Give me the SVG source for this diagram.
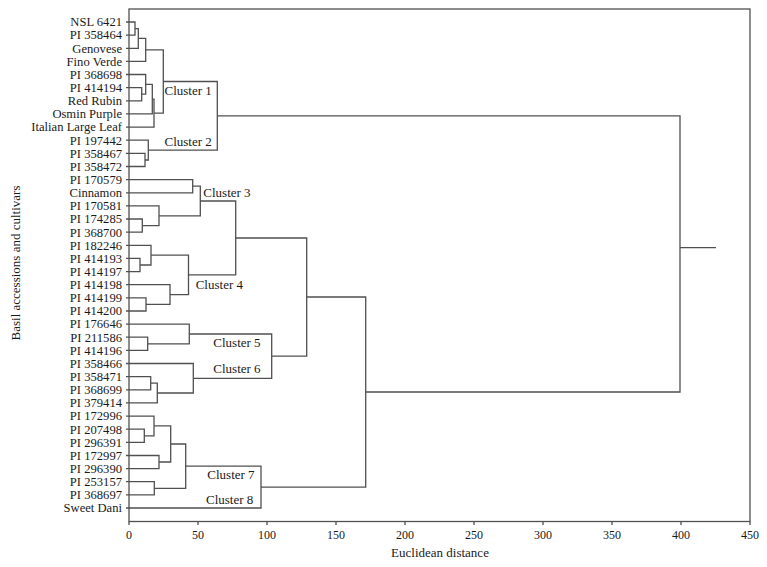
<svg xmlns="http://www.w3.org/2000/svg" width="767" height="567" viewBox="0 0 767 567">
<style>
.ln{fill:none;stroke:#505050;stroke-width:1.3}
.leaf{font-family:"Liberation Serif",serif;font-size:12.6px;fill:#1a1a1a;text-anchor:end}
.cl{font-family:"Liberation Serif",serif;font-size:13px;fill:#1a1a1a}
.tk{font-family:"Liberation Serif",serif;font-size:12px;fill:#1a1a1a;text-anchor:middle}
.ttl{font-family:"Liberation Serif",serif;font-size:13px;fill:#1a1a1a;text-anchor:middle}
</style>
<rect width="767" height="567" fill="#fff"/>
<g id="axes">
<rect class="ln" x="129" y="9" width="621" height="512.5"/>
<path class="ln" d="M129 521.5V525M198 521.5V525M267 521.5V525M336 521.5V525M405 521.5V525M474 521.5V525M543 521.5V525M612 521.5V525M681 521.5V525M750 521.5V525"/>
<text class="tk" x="129" y="539">0</text>
<text class="tk" x="198" y="539">50</text>
<text class="tk" x="267" y="539">100</text>
<text class="tk" x="336" y="539">150</text>
<text class="tk" x="405" y="539">200</text>
<text class="tk" x="474" y="539">250</text>
<text class="tk" x="543" y="539">300</text>
<text class="tk" x="612" y="539">350</text>
<text class="tk" x="681" y="539">400</text>
<text class="tk" x="750" y="539">450</text>
<text class="ttl" x="440" y="557">Euclidean distance</text>
<text class="ttl" transform="translate(20,263) rotate(-90)">Basil accessions and cultivars</text>
</g>
<g id="connectors">
<path class="ln" d="M126 22H135V35.1H126"/>
<path class="ln" d="M135 28.6H138.3V48.3H126"/>
<path class="ln" d="M138.3 38.4H145.7V61.4H126"/>
<path class="ln" d="M126 87.7H141.7V100.8H126"/>
<path class="ln" d="M126 74.5H145.7V94.2H141.7"/>
<path class="ln" d="M145.7 84.4H152.3V113.9H126"/>
<path class="ln" d="M152.3 99.1H154V127.1H126"/>
<path class="ln" d="M145.7 49.9H163.3V113.1H154"/>
<path class="ln" d="M126 153.4H145V166.5H126"/>
<path class="ln" d="M126 140.2H148.3V160H145"/>
<path class="ln" d="M163.3 81.5H217.3V150.1H148.3"/>
<path class="ln" d="M126 179.6H192.7V192.8H126"/>
<path class="ln" d="M126 219H142.3V232.2H126"/>
<path class="ln" d="M126 205.9H159V225.6H142.3"/>
<path class="ln" d="M192.7 186.2H200.3V215.8H159"/>
<path class="ln" d="M126 258.4H140V271.6H126"/>
<path class="ln" d="M126 245.3H151V265H140"/>
<path class="ln" d="M126 297.8H146V311H126"/>
<path class="ln" d="M126 284.7H170V304.4H146"/>
<path class="ln" d="M151 255.2H188.5V294.6H170"/>
<path class="ln" d="M200.3 201H235.7V274.9H188.5"/>
<path class="ln" d="M126 337.2H147.7V350.4H126"/>
<path class="ln" d="M126 324.1H189.3V343.8H147.7"/>
<path class="ln" d="M126 376.6H150.7V389.8H126"/>
<path class="ln" d="M150.7 383.2H157.3V402.9H126"/>
<path class="ln" d="M126 363.5H193.3V393H157.3"/>
<path class="ln" d="M189.3 334H271.7V378.3H193.3"/>
<path class="ln" d="M235.7 238H306.7V356.1H271.7"/>
<path class="ln" d="M126 429.2H144.3V442.3H126"/>
<path class="ln" d="M126 416.1H154V435.8H144.3"/>
<path class="ln" d="M126 455.5H159V468.6H126"/>
<path class="ln" d="M154 425.9H170.7V462H159"/>
<path class="ln" d="M126 481.7H154.3V494.9H126"/>
<path class="ln" d="M170.7 444H185.7V488.3H154.3"/>
<path class="ln" d="M185.7 466.2H261V508H126"/>
<path class="ln" d="M306.7 297H365.7V487.1H261"/>
<path class="ln" d="M217.3 115.8H680V392H365.7"/>
<path class="ln" d="M680 247.7H716"/>
</g>
<g id="leaves">
<g id="leaf-nsl-6421"><text class="leaf" x="122" y="26.3">NSL 6421</text></g>
<g id="leaf-pi-358464"><text class="leaf" x="122" y="39.4">PI 358464</text></g>
<g id="leaf-genovese"><text class="leaf" x="122" y="52.6">Genovese</text></g>
<g id="leaf-fino-verde"><text class="leaf" x="122" y="65.7">Fino Verde</text></g>
<g id="leaf-pi-368698"><text class="leaf" x="122" y="78.8">PI 368698</text></g>
<g id="leaf-pi-414194"><text class="leaf" x="122" y="92">PI 414194</text></g>
<g id="leaf-red-rubin"><text class="leaf" x="122" y="105.1">Red Rubin</text></g>
<g id="leaf-osmin-purple"><text class="leaf" x="122" y="118.2">Osmin Purple</text></g>
<g id="leaf-italian-large-leaf"><text class="leaf" x="122" y="131.4">Italian Large Leaf</text></g>
<g id="leaf-pi-197442"><text class="leaf" x="122" y="144.5">PI 197442</text></g>
<g id="leaf-pi-358467"><text class="leaf" x="122" y="157.7">PI 358467</text></g>
<g id="leaf-pi-358472"><text class="leaf" x="122" y="170.8">PI 358472</text></g>
<g id="leaf-pi-170579"><text class="leaf" x="122" y="183.9">PI 170579</text></g>
<g id="leaf-cinnamon"><text class="leaf" x="122" y="197.1">Cinnamon</text></g>
<g id="leaf-pi-170581"><text class="leaf" x="122" y="210.2">PI 170581</text></g>
<g id="leaf-pi-174285"><text class="leaf" x="122" y="223.3">PI 174285</text></g>
<g id="leaf-pi-368700"><text class="leaf" x="122" y="236.5">PI 368700</text></g>
<g id="leaf-pi-182246"><text class="leaf" x="122" y="249.6">PI 182246</text></g>
<g id="leaf-pi-414193"><text class="leaf" x="122" y="262.7">PI 414193</text></g>
<g id="leaf-pi-414197"><text class="leaf" x="122" y="275.9">PI 414197</text></g>
<g id="leaf-pi-414198"><text class="leaf" x="122" y="289">PI 414198</text></g>
<g id="leaf-pi-414199"><text class="leaf" x="122" y="302.1">PI 414199</text></g>
<g id="leaf-pi-414200"><text class="leaf" x="122" y="315.3">PI 414200</text></g>
<g id="leaf-pi-176646"><text class="leaf" x="122" y="328.4">PI 176646</text></g>
<g id="leaf-pi-211586"><text class="leaf" x="122" y="341.5">PI 211586</text></g>
<g id="leaf-pi-414196"><text class="leaf" x="122" y="354.7">PI 414196</text></g>
<g id="leaf-pi-358466"><text class="leaf" x="122" y="367.8">PI 358466</text></g>
<g id="leaf-pi-358471"><text class="leaf" x="122" y="380.9">PI 358471</text></g>
<g id="leaf-pi-368699"><text class="leaf" x="122" y="394.1">PI 368699</text></g>
<g id="leaf-pi-379414"><text class="leaf" x="122" y="407.2">PI 379414</text></g>
<g id="leaf-pi-172996"><text class="leaf" x="122" y="420.4">PI 172996</text></g>
<g id="leaf-pi-207498"><text class="leaf" x="122" y="433.5">PI 207498</text></g>
<g id="leaf-pi-296391"><text class="leaf" x="122" y="446.6">PI 296391</text></g>
<g id="leaf-pi-172997"><text class="leaf" x="122" y="459.8">PI 172997</text></g>
<g id="leaf-pi-296390"><text class="leaf" x="122" y="472.9">PI 296390</text></g>
<g id="leaf-pi-253157"><text class="leaf" x="122" y="486">PI 253157</text></g>
<g id="leaf-pi-368697"><text class="leaf" x="122" y="499.2">PI 368697</text></g>
<g id="leaf-sweet-dani"><text class="leaf" x="122" y="512.3">Sweet Dani</text></g>
</g>
<g id="clusters">
<g id="cluster-1"><text class="cl" x="164.5" y="95.2">Cluster 1</text></g>
<g id="cluster-2"><text class="cl" x="164.5" y="146.2">Cluster 2</text></g>
<g id="cluster-3"><text class="cl" x="203.3" y="196.7">Cluster 3</text></g>
<g id="cluster-4"><text class="cl" x="195.7" y="288.5">Cluster 4</text></g>
<g id="cluster-5"><text class="cl" x="213.3" y="346.8">Cluster 5</text></g>
<g id="cluster-6"><text class="cl" x="213.3" y="372.8">Cluster 6</text></g>
<g id="cluster-7"><text class="cl" x="207.3" y="478.8">Cluster 7</text></g>
<g id="cluster-8"><text class="cl" x="206" y="503.5">Cluster 8</text></g>
</g>
</svg>
